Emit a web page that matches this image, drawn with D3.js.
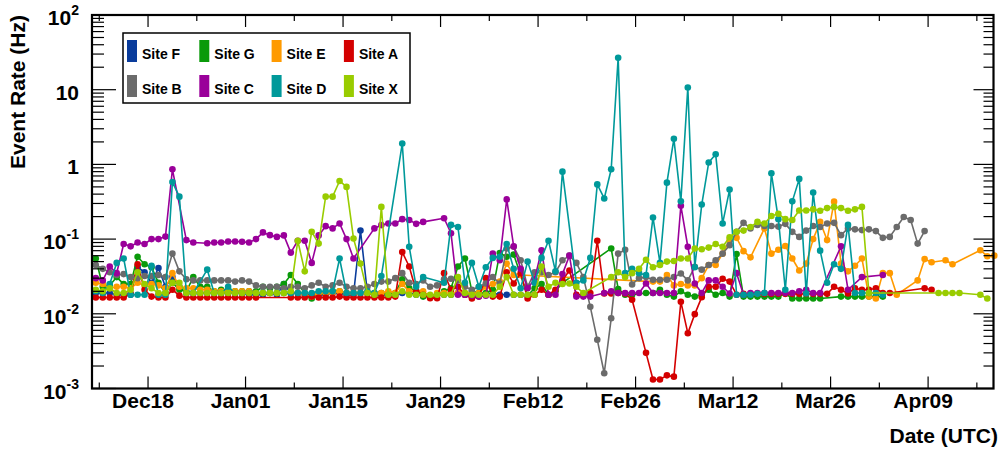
<!DOCTYPE html>
<html><head><meta charset="utf-8">
<script src="https://cdn.jsdelivr.net/npm/d3@7"></script>
<style>
body{margin:0;background:#fff}
svg{display:block}
text{font-family:"Liberation Sans",Arial,Helvetica,sans-serif;font-weight:bold;fill:#000}
</style>
</head><body>
<svg id="chart" width="1000" height="450"></svg>
<script>
// ---------------- data ----------------
const firstDay = "2017-12-10";           // day index 0 (points at 12:00 UTC)
const axisStart = "2017-12-09T22:54:00Z";
const axisEnd   = "2018-04-18T09:22:00Z";
const majorTickDates = ["2017-12-18","2018-01-01","2018-01-15","2018-01-29","2018-02-12","2018-02-26","2018-03-12","2018-03-26","2018-04-09"];
const minorTickDates = ["2017-12-11","2017-12-25","2018-01-08","2018-01-22","2018-02-05","2018-02-19","2018-03-05","2018-03-19","2018-04-02","2018-04-16"];
const yTickExps = [-3,-2,-1,0,1,2];
const seriesNames = ["Site F","Site G","Site E","Site A","Site B","Site C","Site D","Site X"];
const seriesColors = ["#0a3c9c","#0a9a0a","#ff9a00","#d40000","#6b6b6b","#9a009a","#00999a","#99cc00"];

const siteF = [0.019,0.019,0.019,0.018,0.018,0.018,0.042,0.036,0.026,0.041,0.023,
 0.031,0.023,0.019,0.019,0.019,0.019,0.019,0.019,0.019,0.019,
 0.019,0.018,0.018,0.018,0.019,0.018,0.025,0.019,0.019,0.018,
 0.018,0.018,0.018,0.019,0.019,0.018,0.018,0.13,0.019,0.018,
 0.018,0.018,0.018,0.019,0.019,0.018,0.018,0.017,0.018,0.018,
 0.018,0.019,0.018,0.018,0.018,0.018,0.019,0.018,0.018,0.018,
 0.018];
const siteG = [0.055,0.023,0.024,0.031,0.025,0.025,0.058,0.046,0.042,0.026,0.019,
 0.026,0.021,0.02,0.031,0.023,0.023,0.02,0.021,0.021,0.02,
 0.02,0.02,0.02,0.023,0.022,0.023,0.025,0.033,0.025,0.019,
 0.016,0.019,0.019,0.02,0.02,0.019,0.019,0.019,0.019,0.019,
 0.019,0.019,0.019,0.029,0.022,0.02,0.017,0.017,0.018,0.02,
 0.022,0.043,0.055,0.02,0.019,0.019,0.021,0.065,0.058,0.062,
 0.033,0.0175,0.022,0.025,0.018,0.02,0.026,null,null,null,
 null,null,null,0.075,0.0215,0.018,0.018,null,0.019,0.019,
 0.021,0.018,0.017,0.02,0.018,0.017,0.018,0.021,0.018,0.019,
 0.017,0.063,0.017,0.017,0.017,0.017,0.017,0.017,0.0187,0.016,
 0.016,0.016,0.016,0.016,null,null,0.017,0.017,0.017,0.017,
 0.017,0.017,0.017];
const siteE = [0.026,0.025,0.022,0.023,0.023,0.022,0.026,0.024,0.025,0.024,0.022,
 0.035,0.023,0.022,0.022,0.021,0.021,0.02,0.02,0.02,0.02,
 0.02,0.02,0.019,0.019,0.019,0.019,0.019,0.019,0.019,0.018,
 0.017,0.019,0.019,0.019,0.02,0.019,0.019,0.019,0.019,0.019,
 0.019,0.02,0.019,0.025,0.02,0.02,0.02,0.017,0.019,0.019,
 0.019,0.019,0.019,0.019,0.019,0.023,0.025,0.027,0.047,0.033,
 0.033,null,null,null,null,null,null,null,null,null,
 null,null,null,null,null,null,null,null,null,0.027,
 0.027,0.033,0.024,0.025,0.024,0.024,0.03,0.045,0.045,0.064,
 0.097,0.104,0.069,0.057,null,0.139,0.064,0.072,0.081,0.055,
 0.038,0.047,0.1,0.17,0.097,0.317,0.047,0.037,0.044,0.055,
 0.017,0.016,0.035,0.035,0.018,null,null,0.028,0.054,0.049,
 null,0.052,0.046,null,null,null,0.071,0.059,0.06];
const siteA = [0.0165,0.0165,0.0165,0.0165,0.0165,0.0187,0.046,0.021,0.017,0.0165,0.0165,
 0.021,0.0175,0.0165,0.0165,0.0165,0.0165,0.0165,0.0165,0.0165,0.0165,
 0.0165,0.0165,0.0165,null,null,null,null,0.0165,0.0165,0.0165,
 0.017,0.0165,0.0165,0.0165,0.017,0.0165,0.0165,0.0165,0.0165,0.0165,
 0.0165,0.0165,0.017,0.067,0.043,0.02,0.018,0.0162,0.0162,0.035,
 0.021,0.023,0.018,0.016,0.017,0.03,0.017,0.017,0.036,0.0255,
 0.035,0.016,0.018,0.021,0.018,0.021,0.028,0.038,0.018,0.018,
 0.019,0.095,0.0187,0.0187,0.019,0.0187,0.0154,null,0.003,0.00132,
 0.00132,0.0015,0.00144,0.0145,0.0055,0.0099,0.0167,0.023,0.023,0.0295,
 0.027,0.018,0.0185,0.0185,0.0185,0.0185,0.0185,0.0185,0.0185,0.0185,
 0.0185,0.0185,0.0185,0.0185,0.0185,0.023,0.021,0.0187,0.022,0.021,
 0.021,0.022,0.019,0.019,null,null,null,null,0.022,0.021];
const siteB = [0.045,0.04,0.036,0.033,0.034,0.031,0.030,0.032,0.032,0.033,0.031,
 0.064,0.037,0.029,0.028,0.028,0.028,0.028,0.028,0.028,0.027,
 0.028,0.027,0.024,0.023,0.023,0.023,0.022,0.023,0.023,0.022,
 0.024,0.026,0.023,0.024,0.026,0.023,0.022,0.022,0.023,0.025,
 0.027,0.027,0.03,0.035,0.026,0.025,0.028,0.023,0.024,0.029,
 0.0295,0.028,0.023,0.021,0.023,0.0255,0.031,0.0255,0.075,0.079,
 0.052,0.023,0.036,0.036,0.033,0.036,0.052,0.06,0.048,0.031,
 0.0124,0.0045,0.0016,0.0087,0.064,0.072,0.0247,0.03,0.031,0.0286,
 0.0286,0.0286,0.031,0.0347,0.028,0.0426,0.039,0.045,0.052,0.064,
 0.083,0.125,0.165,0.139,0.155,0.15,0.15,0.147,0.16,0.125,
 0.107,0.13,0.15,0.145,0.162,0.165,0.113,0.139,0.135,0.132,
 0.135,0.128,0.104,0.107,0.145,0.198,0.18,0.087,0.128];
const siteC = [0.03,0.028,0.043,0.035,0.086,0.08,0.09,0.086,0.1,0.1,0.108,
 0.86,null,0.097,0.09,null,0.088,0.09,0.09,0.093,0.093,
 0.092,0.09,0.1,0.123,0.113,0.107,0.112,0.066,0.095,0.095,
 0.048,0.112,0.149,0.139,0.162,0.1,0.055,null,null,0.139,
 0.154,0.162,0.162,0.185,0.18,0.16,0.17,null,null,0.19,
 0.12,0.018,0.018,0.0175,0.017,0.0175,0.064,0.052,0.34,0.08,
 0.04,0.022,0.029,0.071,0.018,0.018,0.034,0.06,0.017,0.017,
 0.017,null,0.019,0.02,0.019,0.019,0.019,0.019,0.0255,0.019,
 0.019,0.019,0.019,0.28,0.079,0.0255,0.019,0.028,0.028,0.023,
 0.0187,0.035,0.018,0.019,0.019,0.019,0.019,0.019,0.019,0.019,
 0.02,0.021,0.019,0.019,null,null,0.08,0.021,null,0.031,
 null,null,0.033];
const siteD = [0.02,0.019,0.025,0.048,0.055,0.018,0.018,0.018,0.044,0.018,0.018,
 0.58,0.37,0.019,0.019,null,0.039,0.019,0.019,0.023,0.019,
 0.019,0.019,0.019,0.019,0.019,0.019,0.019,0.019,0.019,0.019,
 0.019,0.02,0.02,0.02,0.055,0.019,0.019,0.019,0.02,0.019,
 0.032,null,null,1.9,0.079,0.023,0.031,null,null,0.026,
 0.155,0.145,0.026,0.048,0.023,0.042,0.056,0.058,0.086,0.04,
 0.022,0.05,0.026,0.056,0.095,0.037,0.8,null,0.026,0.028,
 0.056,0.54,0.35,0.86,26.7,0.035,0.04,0.035,0.033,0.195,
 0.048,0.57,2.2,0.32,10.7,0.042,0.29,1.06,1.37,0.162,
 0.46,0.018,0.018,0.018,0.0185,0.019,0.76,0.185,0.021,0.32,
 0.64,0.0187,0.42,0.07,0.026,0.046,0.04,0.155,0.019,0.019,
 0.019,0.019,0.018];
const siteX = [0.021,0.02,0.022,0.019,0.019,0.021,0.036,0.025,0.022,0.019,0.019,
 0.026,0.026,0.019,0.019,0.019,0.019,0.019,0.019,0.019,0.019,
 0.019,0.019,0.019,0.019,0.019,0.019,0.019,0.02,0.095,0.037,
 0.125,0.087,0.37,0.37,0.6,0.5,0.102,0.047,0.019,0.018,
 0.27,0.018,0.018,0.02,0.018,0.018,0.018,0.018,0.018,0.018,
 0.018,0.031,0.019,0.018,0.018,0.018,0.018,0.023,0.031,0.018,
 0.018,0.018,0.018,0.043,0.023,0.026,0.025,0.0255,0.023,0.019,
 null,null,null,0.031,0.036,0.031,0.035,0.04,0.053,0.042,
 0.045,0.05,0.051,0.055,0.055,0.075,0.073,0.077,0.086,0.079,
 0.106,0.125,0.13,0.145,0.17,0.162,0.204,0.218,0.185,0.18,
 0.242,0.242,0.25,0.24,0.26,0.27,0.26,0.24,0.25,0.27,
 0.019,null,null,null,null,null,null,null,null,null,
 0.019,0.019,0.019,0.019,null,null,0.018,0.016];

const seriesValues = [siteF, siteG, siteE, siteA, siteB, siteC, siteD, siteX];

// ---------------- chart ----------------
const svg = d3.select("#chart");
const L = 92, R = 993.5, T = 15, B = 388.5;

const x = d3.scaleUtc().domain([new Date(axisStart), new Date(axisEnd)]).range([L, R]);
const y = d3.scaleLog().domain([1e-3, 1e2]).range([B, T]);

svg.append("rect").attr("width",1000).attr("height",450).attr("fill","#fff");

const day0 = new Date(firstDay + "T12:00:00Z");
const dayOf = i => d3.utcDay.offset(day0, i);

// series
const line = d3.line().x(d => x(d.date)).y(d => y(d.v));
seriesValues.forEach((vals, s) => {
  const pts = vals.map((v, i) => ({date: dayOf(i), v})).filter(d => d.v != null);
  const g = svg.append("g");
  g.append("path").datum(pts).attr("d", line)
    .attr("fill","none").attr("stroke", seriesColors[s]).attr("stroke-width",1.6)
    .attr("stroke-linejoin","round");
  g.selectAll("circle").data(pts.filter(d => x(d.date) > L + 2)).join("circle")
    .attr("cx", d => x(d.date)).attr("cy", d => y(d.v)).attr("r", 3.3)
    .attr("fill", seriesColors[s]);
});

// axes ticks
const majors = majorTickDates.map(d => new Date(d + "T00:00:00Z"));
const minors = minorTickDates.map(d => new Date(d + "T00:00:00Z"));
const tickG = svg.append("g").attr("stroke","#000").attr("stroke-width",1.2);
function vTick(xx, y1, y2){ tickG.append("line").attr("x1",xx).attr("x2",xx).attr("y1",y1).attr("y2",y2); }
function hTick(yy, x1, x2){ tickG.append("line").attr("x1",x1).attr("x2",x2).attr("y1",yy).attr("y2",yy); }
majors.forEach(d => { vTick(x(d), B, B-12); vTick(x(d), T, T+12); });
minors.forEach(d => { vTick(x(d), B, B-6); vTick(x(d), T, T+6); });
yTickExps.forEach(e => {
  const v = Math.pow(10, e);
  hTick(y(v), L, L+24); hTick(y(v), R, R-20);
  if (e < 2) for (let k = 2; k <= 9; k++) {
    hTick(y(k*v), L, L+12); hTick(y(k*v), R, R-10);
  }
});

// frame
svg.append("rect").attr("x",L).attr("y",T).attr("width",R-L).attr("height",B-T)
  .attr("fill","none").attr("stroke","#000").attr("stroke-width",2.2);

// x labels
const fmt = d3.utcFormat("%b%d");
svg.append("g").selectAll("text").data(majors).join("text")
  .attr("x", d => x(d) - 5).attr("y", 408).attr("text-anchor","middle")
  .attr("font-size",21).text(d => fmt(d));

// y labels
yTickExps.forEach(e => {
  const t = svg.append("text").attr("x",79).attr("y", y(Math.pow(10,e)) + 10)
    .attr("text-anchor","end").attr("font-size",21);
  if (e === 0) t.text("1");
  else if (e === 1) t.text("10");
  else {
    t.append("tspan").text("10");
    t.append("tspan").attr("dy",-10).attr("font-size",14).text(String(e));
  }
});

// axis titles
svg.append("text").attr("x",998).attr("y",443).attr("text-anchor","end")
  .attr("font-size",21).text("Date (UTC)");
svg.append("text").attr("transform","translate(25,15) rotate(-90)")
  .attr("text-anchor","end").attr("font-size",21).text("Event Rate (Hz)");

// legend
const lg = svg.append("g");
lg.append("rect").attr("x",123).attr("y",33).attr("width",287).attr("height",70)
  .attr("fill","#fff").attr("stroke","#000").attr("stroke-width",1.5);
seriesNames.forEach((n, i) => {
  const c = i % 4, r = Math.floor(i / 4);
  const sx = 127 + c * 72.3, sy = 40 + r * 35;
  lg.append("rect").attr("x",sx).attr("y",sy).attr("width",10).attr("height",22)
    .attr("fill",seriesColors[i]);
  lg.append("text").attr("x",sx+15).attr("y",sy+18.5).attr("font-size",14).text(n);
});
</script>
</body></html>
